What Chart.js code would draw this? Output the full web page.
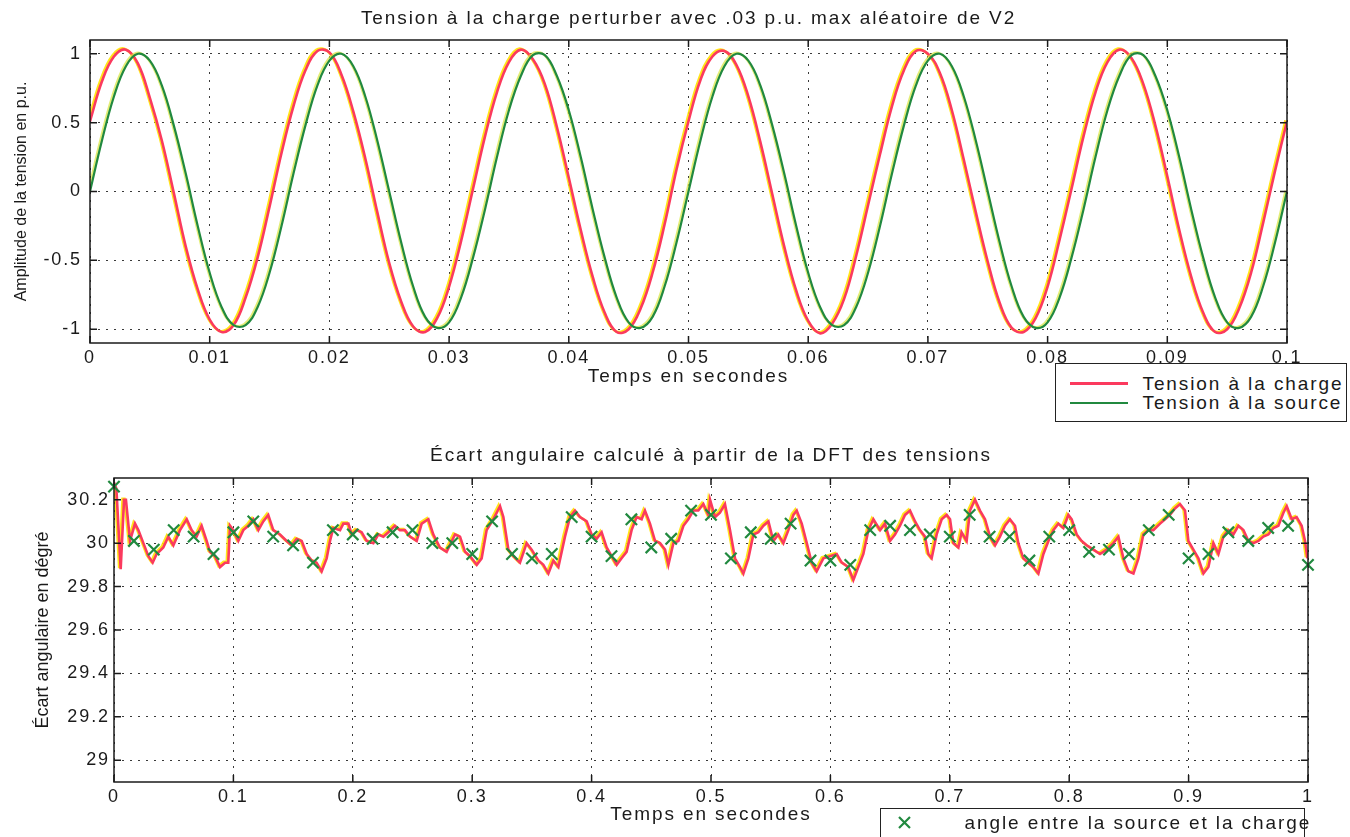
<!DOCTYPE html>
<html>
<head>
<meta charset="UTF-8">
<title>Tension à la charge et écart angulaire</title>
<script src="https://cdn.jsdelivr.net/npm/chart.js@4.4.1/dist/chart.umd.min.js"></script>
<style>
  body { margin: 0; background: #fff; }
  #wrap { position: relative; width: 1350px; height: 837px; overflow: hidden; font-family: "Liberation Sans", Arial, sans-serif; color: #1a1a1a; }
  canvas { position: absolute; left: 0; }
  .legend { position: absolute; border: 1.5px solid #222; background: #fff; box-sizing: border-box; }
  .legend .txt { position: absolute; font-size: 19px; letter-spacing: 1.9px; white-space: nowrap; line-height: 20px; }
  .legend .ln { position: absolute; height: 0; }
</style>
</head>
<body>
<div id="wrap">
  <canvas id="topChart" width="1350" height="400" style="top:0"></canvas>
  <canvas id="bottomChart" width="1350" height="407" style="top:430px"></canvas>

  <div class="legend" style="left:1055px; top:363px; width:292px; height:59px;">
    <div class="ln" style="left:13.5px; top:18px; width:58px; border-top:3px solid #fb3a5e"></div>
    <div class="txt" style="left:86.5px; top:9.5px">Tension à la charge</div>
    <div class="ln" style="left:13.5px; top:37.5px; width:58px; border-top:2px solid #21893f"></div>
    <div class="txt" style="left:86.5px; top:28.5px">Tension à la source</div>
  </div>

  <div class="legend" style="left:880px; top:808px; width:425px; height:45px;">
    <svg style="position:absolute; left:16px; top:6px" width="15" height="15">
      <path d="M2 2 L13 13 M13 2 L2 13" stroke="#21893f" stroke-width="2.2"/>
    </svg>
    <div class="txt" style="left:83.5px; top:3.5px">angle entre la source et la charge</div>
  </div>
</div>

<script>
  // ---- top plot: voltages sampled every millisecond ----
  const topTimeStep = 0.001;
  const chargeVoltage = [
    0.51, 0.80, 0.98, 1.03, 0.93, 0.68, 0.37, -0.01, -0.40, -0.71,
    -0.93, -1.02, -0.97, -0.77, -0.48, -0.11, 0.28, 0.62, 0.88, 1.02,
    1.01, 0.85, 0.58, 0.24, -0.15, -0.52, -0.80, -0.98, -1.02, -0.92,
    -0.69, -0.36, 0.02, 0.40, 0.72, 0.94, 1.03, 0.96, 0.78, 0.47,
    0.10, -0.28, -0.62, -0.88, -1.02, -1.00, -0.85, -0.59, -0.24, 0.16,
    0.51, 0.81, 0.98, 1.02, 0.92, 0.69, 0.36, -0.02, -0.40, -0.72,
    -0.94, -1.03, -0.96, -0.78, -0.47, -0.10, 0.27, 0.62, 0.88, 1.02,
    1.00, 0.86, 0.59, 0.23, -0.15, -0.51, -0.81, -0.99, -1.02, -0.92,
    -0.69, -0.35, 0.02, 0.40, 0.72, 0.94, 1.03, 0.97, 0.78, 0.48,
    0.11, -0.28, -0.62, -0.88, -1.02, -1.00, -0.85, -0.59, -0.23, 0.15,
    0.51
  ];
  const sourceVoltage = [
    0, 0.37, 0.69, 0.91, 1.00, 0.95, 0.77, 0.48, 0.13, -0.25,
    -0.59, -0.84, -0.97, -0.97, -0.84, -0.59, -0.25, 0.13, 0.48, 0.77,
    0.95, 1.00, 0.91, 0.69, 0.37, 0, -0.37, -0.69, -0.91, -0.99,
    -0.95, -0.77, -0.48, -0.13, 0.25, 0.59, 0.84, 0.99, 0.99, 0.84,
    0.59, 0.25, -0.13, -0.48, -0.77, -0.95, -0.99, -0.91, -0.69, -0.37,
    0, 0.37, 0.69, 0.91, 1.00, 0.95, 0.77, 0.48, 0.13, -0.25,
    -0.59, -0.84, -0.97, -0.97, -0.84, -0.59, -0.25, 0.13, 0.48, 0.77,
    0.95, 1.00, 0.91, 0.69, 0.37, 0, -0.37, -0.69, -0.91, -0.99,
    -0.95, -0.77, -0.48, -0.13, 0.25, 0.59, 0.84, 0.99, 0.99, 0.84,
    0.59, 0.25, -0.13, -0.48, -0.77, -0.95, -0.99, -0.91, -0.69, -0.37,
    0
  ];
  const topXTicks = [0, 0.01, 0.02, 0.03, 0.04, 0.05, 0.06, 0.07, 0.08, 0.09, 0.1];
  const topYTicks = [-1, -0.5, 0, 0.5, 1];

  // ---- bottom plot: angle from the DFT ----
  const angleTimes = [
    0, 0.002, 0.0056, 0.0084, 0.010, 0.0134, 0.0176, 0.0204, 0.0246, 0.0288,
    0.0324, 0.0357, 0.0413, 0.0455, 0.0497, 0.0553, 0.0609, 0.0650, 0.0692, 0.0734,
    0.0776, 0.0804, 0.0846, 0.0888, 0.0930, 0.0957, 0.0972, 0.0999, 0.1041, 0.1083,
    0.1125, 0.1167, 0.1209, 0.1250, 0.1292, 0.1334, 0.1390, 0.1446, 0.1488, 0.1530,
    0.1572, 0.1614, 0.1656, 0.1697, 0.1739, 0.1781, 0.1809, 0.1837, 0.1893, 0.1921,
    0.1963, 0.1991, 0.2032, 0.2074, 0.2116, 0.2172, 0.2214, 0.2256, 0.2298, 0.2353,
    0.2395, 0.2437, 0.2479, 0.2535, 0.2577, 0.2633, 0.2674, 0.2730, 0.2786,
    0.2856, 0.2898, 0.2940, 0.2982, 0.3038, 0.3079, 0.3121, 0.3177, 0.3233, 0.3261,
    0.3303, 0.3345, 0.3400, 0.3456, 0.3498, 0.3554, 0.3596, 0.3638, 0.3680, 0.3722,
    0.3777, 0.3819, 0.3861, 0.3903, 0.3959, 0.4000, 0.4042, 0.4084, 0.4126, 0.4168,
    0.4210, 0.4251, 0.4293, 0.4335, 0.4377, 0.4419, 0.4447, 0.4489, 0.4531, 0.4573,
    0.4615, 0.4643, 0.4685, 0.4727, 0.4769, 0.4810, 0.4852, 0.4894, 0.4936, 0.4978,
    0.4992, 0.5034, 0.5075, 0.5117, 0.5159, 0.5201, 0.5243, 0.5271, 0.5313, 0.5355,
    0.5397, 0.5439, 0.5481, 0.5522, 0.5564, 0.5606, 0.5648, 0.5690, 0.5718, 0.5760,
    0.5802, 0.5843, 0.5885, 0.5941, 0.5997, 0.6053, 0.6095, 0.6150, 0.6192, 0.6234,
    0.6276, 0.6318, 0.6360, 0.6416, 0.6457, 0.6499, 0.6541, 0.6583,
    0.6625, 0.6667, 0.6709, 0.6750, 0.6792, 0.6820, 0.6848, 0.6890, 0.6932, 0.6974,
    0.7002, 0.7030, 0.7072, 0.7099, 0.7141, 0.7169, 0.7211, 0.7253, 0.7295, 0.7337,
    0.7379, 0.7420, 0.7462, 0.7504, 0.7546, 0.7574, 0.7616, 0.7658, 0.7700, 0.7742,
    0.7784, 0.7826, 0.7867, 0.7909, 0.7951, 0.7993, 0.8021, 0.8063, 0.8104, 0.8146,
    0.8202, 0.8258, 0.8314, 0.8370, 0.8412, 0.8454, 0.8496, 0.8538, 0.8580, 0.8621,
    0.8663, 0.8705, 0.8761, 0.8803, 0.8844, 0.8886, 0.8928, 0.8970, 0.8998, 0.9040,
    0.9082, 0.9124, 0.9166, 0.9208, 0.9250, 0.9291, 0.9333, 0.9375, 0.9417, 0.9459,
    0.9501, 0.9543, 0.9585, 0.9626, 0.9668, 0.9710, 0.9752, 0.9794, 0.9822, 0.9864,
    0.9905, 0.9947, 0.9975, 0.9995
  ];
  const angleValues = [
    30.28, 30.25, 29.88, 30.20, 30.20, 30.01, 30.09, 30.06, 30.00, 29.94,
    29.91, 29.95, 29.98, 30.03, 29.99, 30.06, 30.11, 30.06, 30.03, 30.08,
    30.01, 29.96, 29.94, 29.89, 29.91, 29.91, 30.08, 30.06, 30.01, 30.06,
    30.08, 30.11, 30.06, 30.10, 30.13, 30.06, 30.04, 30.01, 29.99, 30.02,
    30.01, 29.95, 29.92, 29.91, 29.87, 29.93, 30.01, 30.07, 30.06, 30.09,
    30.09, 30.04, 30.06, 30.05, 30.01, 30.00, 30.04, 30.03, 30.05, 30.08,
    30.06, 30.06, 30.03, 30.01, 30.09, 30.11, 30.04, 29.98, 29.96,
    30.04, 30.03, 29.96, 29.94, 29.90, 29.93, 30.06, 30.11, 30.17, 30.12,
    29.97, 29.94, 29.91, 30.00, 29.97, 29.92, 29.90, 29.86, 29.92, 29.89,
    30.03, 30.12, 30.15, 30.12, 30.10, 30.04, 30.02, 30.05, 29.98, 29.94,
    29.90, 29.93, 29.96, 30.06, 30.12, 30.11, 30.15, 30.09, 30.01, 30.00,
    29.97, 29.90, 30.00, 30.01, 30.08, 30.11, 30.15, 30.15, 30.18, 30.13,
    30.20, 30.12, 30.14, 30.18, 30.06, 29.93, 29.89, 29.86, 29.93, 30.04,
    30.05, 30.08, 30.10, 30.01, 30.04, 30.00, 30.06, 30.13, 30.15, 30.09,
    30.00, 29.91, 29.87, 29.93, 29.94, 29.95, 29.91, 29.89, 29.83, 29.89,
    29.95, 30.06, 30.11, 30.06, 30.09, 30.01, 30.04, 30.08,
    30.13, 30.15, 30.10, 30.06, 30.03, 29.95, 29.93, 30.04, 30.11, 30.13,
    30.11, 30.00, 29.98, 30.05, 30.01, 30.15, 30.20, 30.15, 30.11, 30.03,
    29.99, 30.03, 30.08, 30.11, 30.08, 30.00, 29.93, 29.91, 29.89, 29.86,
    29.95, 30.01, 30.06, 30.09, 30.07, 30.13, 30.11, 30.04, 30.01, 29.99,
    29.97, 29.95, 29.97, 30.00, 30.03, 29.93, 29.87, 29.86, 29.93, 30.04,
    30.06, 30.06, 30.09, 30.11, 30.13, 30.16, 30.18, 30.15, 30.01, 29.97,
    29.93, 29.86, 29.89, 30.00, 29.95, 30.03, 30.06, 30.04, 30.08, 30.06,
    30.01, 30.00, 30.01, 30.03, 30.04, 30.07, 30.08, 30.14, 30.17, 30.11,
    30.12, 30.08, 30.01, 29.93
  ];
  // one marker per 60 Hz cycle
  const markerStep = 1 / 60;
  const angleMarkers = [
    30.26, 30.01, 29.97, 30.06, 30.03, 29.95, 30.05, 30.10, 30.03, 29.99,
    29.91, 30.06, 30.04, 30.02, 30.05, 30.06, 30.00,
    30.00, 29.95, 30.10, 29.95, 29.93, 29.95, 30.12, 30.03, 29.94, 30.11,
    29.98, 30.02, 30.15, 30.13, 29.93, 30.05, 30.02, 30.09, 29.92, 29.92,
    29.90, 30.06, 30.08,
    30.06, 30.04, 30.03, 30.13, 30.03, 30.03, 29.92, 30.03, 30.06, 29.96,
    29.97, 29.95, 30.06, 30.13, 29.93, 29.95, 30.05, 30.01, 30.07, 30.08,
    29.90
  ];
  const bottomXTicks = [0, 0.1, 0.2, 0.3, 0.4, 0.5, 0.6, 0.7, 0.8, 0.9, 1];
  const bottomYTicks = [29, 29.2, 29.4, 29.6, 29.8, 30, 30.2];

  const FONT = "'Liberation Sans', Arial, sans-serif";
  const RED = '#fb3a5e';
  const GREEN = '#21893f';
  const INK = '#1a1a1a';

  const fmt = v => String(parseFloat(Number(v).toFixed(4)));

  // the scanned text is wide, so spread the letters a little
  const textSpacing = {
    id: 'textSpacing',
    beforeUpdate(chart) { chart.ctx.letterSpacing = '1.9px'; },
    beforeDraw(chart) { chart.ctx.letterSpacing = '1.9px'; }
  };

  // yellow fringe of the scanned coloured lines
  const halo = {
    id: 'halo',
    beforeDatasetDraw(chart, args) {
      const ds = chart.data.datasets[args.index];
      if (!ds.halo) return;
      const ctx = chart.ctx;
      ctx.save();
      ctx.shadowColor = ds.halo;
      ctx.shadowOffsetX = -1.5;
      ctx.shadowOffsetY = -1;
      ctx.shadowBlur = 0;
    },
    afterDatasetDraw(chart, args) {
      if (chart.data.datasets[args.index].halo) chart.ctx.restore();
    }
  };

  // matlab style box with inward ticks on all four sides
  const matlabBox = {
    id: 'matlabBox',
    afterDatasetsDraw(chart) {
      const { ctx, chartArea: a, scales: { x, y } } = chart;
      const len = 7;
      ctx.save();
      ctx.strokeStyle = INK;
      ctx.lineWidth = 1.5;
      ctx.strokeRect(a.left, a.top, a.right - a.left, a.bottom - a.top);
      ctx.beginPath();
      x.ticks.forEach(t => {
        const px = x.getPixelForValue(t.value);
        ctx.moveTo(px, a.bottom); ctx.lineTo(px, a.bottom - len);
        ctx.moveTo(px, a.top); ctx.lineTo(px, a.top + len);
      });
      y.ticks.forEach(t => {
        const py = y.getPixelForValue(t.value);
        ctx.moveTo(a.left, py); ctx.lineTo(a.left + len, py);
        ctx.moveTo(a.right, py); ctx.lineTo(a.right - len, py);
      });
      ctx.stroke();
      ctx.restore();
    }
  };

  // vertical axis title, drawn without the extra letter spacing
  const sideTitle = {
    id: 'sideTitle',
    afterDraw(chart, args, opts) {
      const { ctx, chartArea: a } = chart;
      ctx.save();
      ctx.letterSpacing = '0px';
      ctx.font = opts.font;
      ctx.fillStyle = INK;
      ctx.textAlign = 'center';
      ctx.textBaseline = 'middle';
      ctx.translate(opts.x, (a.top + a.bottom) / 2);
      ctx.rotate(-Math.PI / 2);
      ctx.fillText(opts.text, 0, 0);
      ctx.restore();
    }
  };

  function axis(min, max, ticks, fit, pad, title) {
    return {
      type: 'linear',
      min: min,
      max: max,
      afterBuildTicks: s => { s.ticks = ticks.map(v => ({ value: v })); },
      afterFit: fit,
      ticks: { callback: fmt, font: { family: FONT, size: 18 }, color: INK, padding: pad, maxRotation: 0, autoSkip: false },
      grid: { color: '#3a3a3a', lineWidth: 1, drawTicks: false },
      border: { display: false, dash: [2, 6] },
      title: title
    };
  }

  new Chart(document.getElementById('topChart'), {
    type: 'line',
    data: {
      datasets: [
        {
          label: 'Tension à la charge',
          data: chargeVoltage.map((v, i) => ({ x: i * topTimeStep, y: v })),
          borderColor: RED, borderWidth: 2.6, pointRadius: 0, tension: 0.4,
          halo: 'rgba(255,226,0,0.9)', order: 1
        },
        {
          label: 'Tension à la source',
          data: sourceVoltage.map((v, i) => ({ x: i * topTimeStep, y: v })),
          borderColor: GREEN, borderWidth: 2.2, pointRadius: 0, tension: 0.4,
          halo: 'rgba(215,230,60,0.7)', order: 0
        }
      ]
    },
    options: {
      responsive: false,
      animation: false,
      events: [],
      layout: { padding: { left: 0, right: 63, top: 0, bottom: 0 } },
      plugins: {
        legend: { display: false },
        tooltip: { enabled: false },
        title: {
          display: true, fullSize: false,
          text: 'Tension à la charge perturber avec .03 p.u. max aléatoire de V2',
          color: INK, font: { family: FONT, size: 19, weight: 'normal' },
          padding: { top: 7.6, bottom: 9.6 }
        },
        sideTitle: { text: 'Amplitude de la tension en p.u.', x: 22, font: "16px 'Liberation Sans'" }
      },
      scales: {
        x: axis(0, 0.1, topXTicks, s => { s.height = 57; }, 4, {
          display: true, text: 'Temps en secondes', color: INK,
          font: { family: FONT, size: 19 }, padding: { top: 0, bottom: 11.6 }
        }),
        y: axis(-1.1, 1.1, topYTicks, s => { s.width = 90; }, 8, { display: false })
      }
    },
    plugins: [textSpacing, halo, matlabBox, sideTitle]
  });

  new Chart(document.getElementById('bottomChart'), {
    type: 'line',
    data: {
      datasets: [
        {
          label: 'écart angulaire',
          data: angleTimes.map((t, i) => ({ x: t, y: angleValues[i] })),
          borderColor: RED, borderWidth: 2.6, pointRadius: 0, tension: 0,
          halo: 'rgba(255,226,0,0.9)', order: 1
        },
        {
          label: 'angle entre la source et la charge',
          data: angleMarkers.map((v, i) => ({ x: i * markerStep, y: v })),
          showLine: false, pointStyle: 'crossRot', pointRadius: 8,
          pointBorderWidth: 2.2, borderColor: GREEN, pointBorderColor: GREEN,
          clip: false, order: 0
        }
      ]
    },
    options: {
      responsive: false,
      animation: false,
      events: [],
      layout: { padding: { left: 0, right: 42, top: 0, bottom: 0 } },
      plugins: {
        legend: { display: false },
        tooltip: { enabled: false },
        title: {
          display: true, fullSize: false,
          text: 'Écart angulaire calculé à partir de la DFT des tensions',
          color: INK, font: { family: FONT, size: 19, weight: 'normal' },
          padding: { top: 14.6, bottom: 10.6 }
        },
        sideTitle: { text: 'Écart angulaire en dégré', x: 43, font: "18px 'Liberation Sans'" }
      },
      scales: {
        x: axis(0, 1, bottomXTicks, s => { s.height = 55; }, 4, {
          display: true, text: 'Temps en secondes', color: INK,
          font: { family: FONT, size: 19 }, padding: { top: 0, bottom: 10.6 }
        }),
        y: axis(28.9, 30.3, bottomYTicks, s => { s.width = 114; }, 4, { display: false })
      }
    },
    plugins: [textSpacing, halo, matlabBox, sideTitle]
  });
</script>
</body>
</html>
